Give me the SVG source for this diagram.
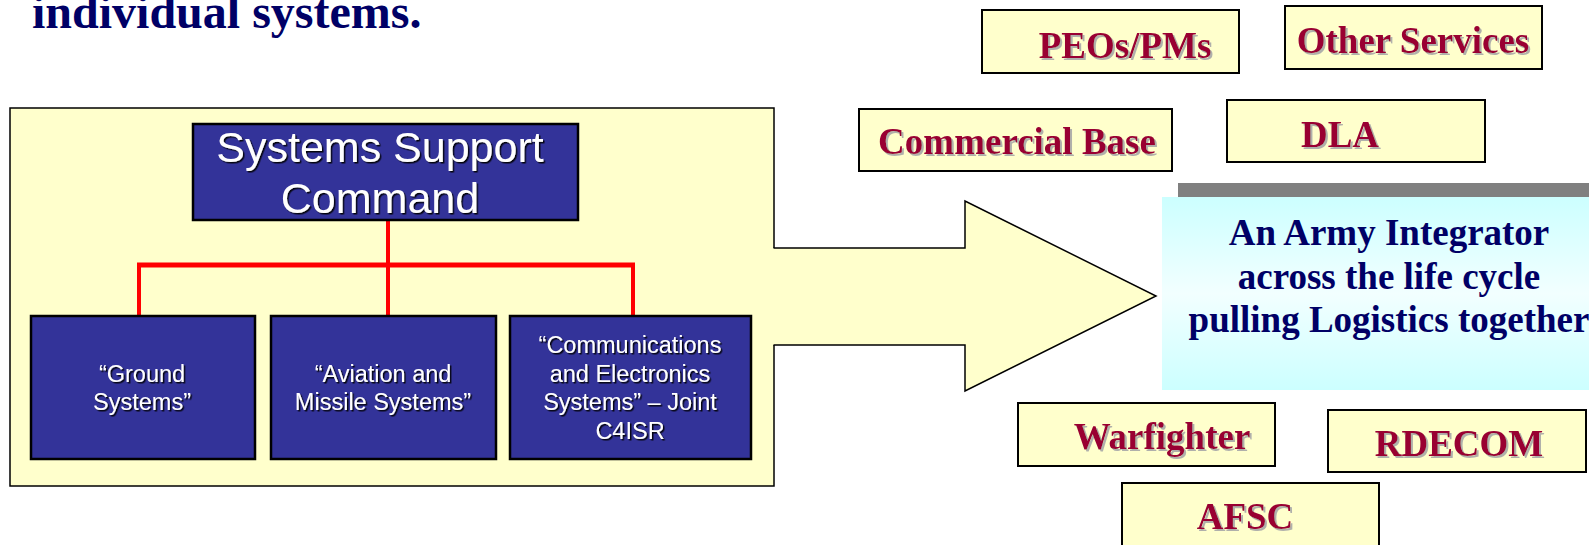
<svg xmlns="http://www.w3.org/2000/svg" width="1589" height="545" viewBox="0 0 1589 545">
<defs>
<linearGradient id="cyanGrad" x1="0" y1="0" x2="0" y2="1">
<stop offset="0" stop-color="#CCFFFF"/>
<stop offset="0.5" stop-color="#F2FFFF"/>
<stop offset="1" stop-color="#CCFFFF"/>
</linearGradient>
<filter id="darkShadow" x="-10%" y="-20%" width="120%" height="140%">
<feDropShadow dx="1.5" dy="1.5" stdDeviation="0.3" flood-color="#000000" flood-opacity="0.9"/>
</filter>
<filter id="greyShadow" x="-10%" y="-20%" width="120%" height="140%">
<feDropShadow dx="2" dy="2" stdDeviation="0.4" flood-color="#A8A8A8" flood-opacity="0.9"/>
</filter>
</defs>
<style>
.yel{fill:#FFFFCC;stroke:#000;stroke-width:2}
.blue{fill:#333399;stroke:#000;stroke-width:2.5}
.red{font-family:"Liberation Serif","Times New Roman",serif;font-weight:bold;font-size:37px;fill:#990033;text-anchor:middle;filter:url(#greyShadow)}
.navy{font-family:"Liberation Serif","Times New Roman",serif;font-weight:bold;fill:#000066}
.wt{font-family:"Liberation Sans",Arial,sans-serif;fill:#FFFFFF;text-anchor:middle;filter:url(#darkShadow)}
.conn{stroke:#FF0000;fill:none}
</style>
<rect width="1589" height="545" fill="#FFFFFF"/>

<text class="navy" x="32" y="28" font-size="48">individual systems.</text>

<g id="container">
<rect x="10" y="108" width="764" height="378" fill="#FFFFCC" stroke="#000" stroke-width="1.5"/>
</g>

<g id="big-arrow">
<polygon points="772,248 965,248 965,201 1156,296 965,391 965,345 772,345" fill="#FFFFCC"/>
<path d="M773.5,248 H965 V201 L1156,296 L965,391 V345 H773.5" fill="none" stroke="#000" stroke-width="1.5" stroke-linejoin="miter"/>
</g>

<g id="connectors">
<line class="conn" x1="388" y1="220" x2="388" y2="316" stroke-width="4"/>
<line class="conn" x1="137" y1="265" x2="635" y2="265" stroke-width="5"/>
<line class="conn" x1="139" y1="265" x2="139" y2="316" stroke-width="4"/>
<line class="conn" x1="633" y1="265" x2="633" y2="316" stroke-width="4"/>
</g>

<g id="ssc">
<rect class="blue" x="193" y="124" width="385" height="96"/>
<text class="wt" font-size="43"><tspan x="380" y="162">Systems Support</tspan><tspan x="380" y="213">Command</tspan></text>
</g>

<g id="ground">
<rect class="blue" x="31" y="316" width="224" height="143"/>
<text class="wt" font-size="23.5"><tspan x="142" y="382">“Ground</tspan><tspan x="142" y="410">Systems”</tspan></text>
</g>

<g id="aviation">
<rect class="blue" x="271" y="316" width="225" height="143"/>
<text class="wt" font-size="23.5"><tspan x="383" y="382">“Aviation and</tspan><tspan x="383" y="410">Missile Systems”</tspan></text>
</g>

<g id="comms">
<rect class="blue" x="510" y="316" width="241" height="143"/>
<text class="wt" font-size="23.5"><tspan x="630" y="353">“Communications</tspan><tspan x="630" y="382">and Electronics</tspan><tspan x="630" y="410">Systems” – Joint</tspan><tspan x="630" y="439">C4ISR</tspan></text>
</g>

<g id="peos">
<rect class="yel" x="982" y="10" width="257" height="63"/>
<text class="red" x="1125" y="58">PEOs/PMs</text>
</g>

<g id="other-services">
<rect class="yel" x="1285" y="6" width="257" height="63"/>
<text class="red" x="1413" y="53">Other Services</text>
</g>

<g id="commercial-base">
<rect class="yel" x="859" y="109" width="313" height="62"/>
<text class="red" x="1017" y="154">Commercial Base</text>
</g>

<g id="dla">
<rect class="yel" x="1227" y="100" width="258" height="62"/>
<text class="red" x="1340" y="147">DLA</text>
</g>

<g id="integrator">
<rect x="1178" y="183" width="420" height="14" fill="#808080"/>
<rect x="1162" y="197" width="436" height="193" fill="url(#cyanGrad)"/>
<text class="navy" font-size="37" text-anchor="middle"><tspan x="1389" y="245">An Army Integrator</tspan><tspan x="1389" y="289">across the life cycle</tspan><tspan x="1389" y="332">pulling Logistics together</tspan></text>
</g>

<g id="warfighter">
<rect class="yel" x="1018" y="403" width="257" height="63"/>
<text class="red" x="1162" y="449">Warfighter</text>
</g>

<g id="rdecom">
<rect class="yel" x="1328" y="410" width="258" height="62"/>
<text class="red" x="1459" y="456">RDECOM</text>
</g>

<g id="afsc">
<rect class="yel" x="1122" y="483" width="257" height="80"/>
<text class="red" x="1245" y="529">AFSC</text>
</g>
</svg>
